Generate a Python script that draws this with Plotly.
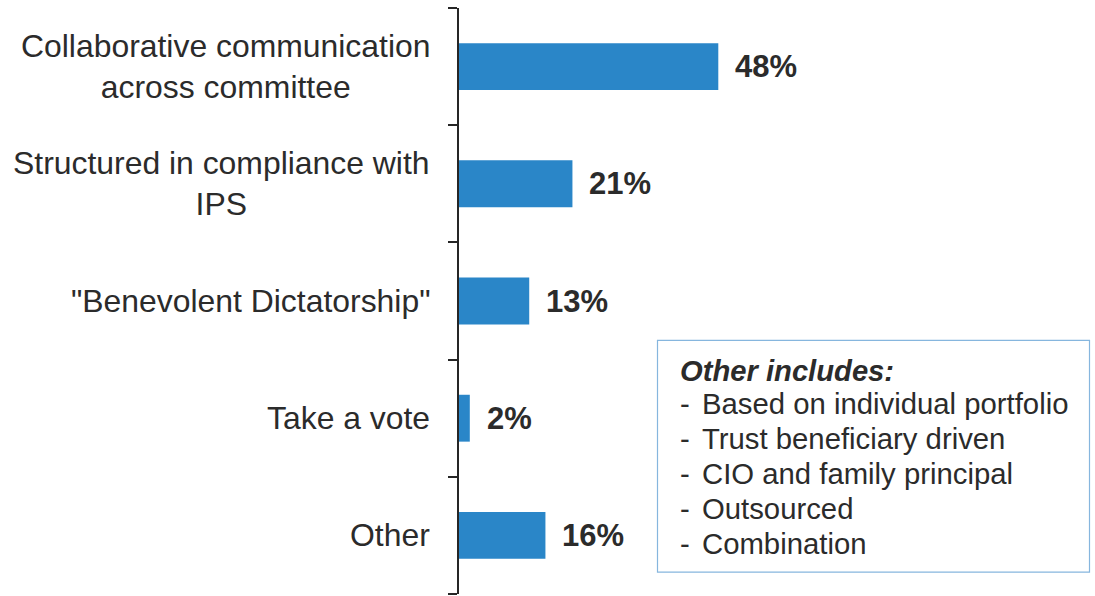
import plotly.graph_objects as go

# Survey responses: how investment decisions are made
categories = [
    "Collaborative communication<br>across committee",
    "Structured in compliance with<br>IPS",
    "\"Benevolent Dictatorship\"",
    "Take a vote",
    "Other",
]
values = [48, 21, 13, 2, 16]

note_title = "Other includes:"
note_items = [
    "Based on individual portfolio",
    "Trust beneficiary driven",
    "CIO and family principal",
    "Outsourced",
    "Combination",
]

BAR_COLOR = "#2A86C8"
TEXT_COLOR = "#2B2B2B"
FONT = "Liberation Sans, Arial, sans-serif"

W, H = 1095, 596
M_L, M_R, M_T, M_B = 459, 0, 7.5, 1.5
PLOT_W = W - M_L - M_R
PLOT_H = H - M_T - M_B
PX_PER_UNIT = 5.402  # horizontal scale, pixels per percentage point


def px_x(x):
    return (x - M_L) / PLOT_W


def px_y(y):
    return (H - M_B - y) / PLOT_H


# category slots on the y axis, top to bottom
positions = list(range(len(categories)))
boundaries = [p - 0.5 for p in positions] + [positions[-1] + 0.5]

fig = go.Figure(
    go.Bar(
        x=values,
        y=positions,
        orientation="h",
        marker=dict(color=BAR_COLOR, line=dict(width=0)),
        hoverinfo="skip",
    )
)

annotations = []
# Category labels, right-aligned against the axis, lines centred
for pos, cat in zip(positions, categories):
    annotations.append(dict(
        xref="paper", yref="y", x=0, y=pos, xanchor="right", yanchor="middle",
        xshift=-27, text=cat, align="center", showarrow=False,
        font=dict(family=FONT, size=31.9, color=TEXT_COLOR),
    ))

# Value labels at the end of each bar
for pos, v in zip(positions, values):
    annotations.append(dict(
        xref="x", yref="y", x=v, y=pos, xanchor="left", yanchor="middle",
        xshift=15, text=f"<b>{v}%</b>", showarrow=False,
        font=dict(family=FONT, size=31, color=TEXT_COLOR),
    ))

# Note box listing what "Other" covers
annotations.append(dict(
    xref="paper", yref="paper", x=px_x(678), y=px_y(371), xanchor="left",
    yanchor="middle", text=f"<b><i>{note_title}</i></b>", showarrow=False,
    font=dict(family=FONT, size=29.2, color=TEXT_COLOR),
))
item_y = [404, 439, 474, 509, 544]
for yy, item in zip(item_y, note_items):
    annotations.append(dict(
        xref="paper", yref="paper", x=px_x(678), y=px_y(yy), xanchor="left",
        yanchor="middle", text="-", showarrow=False,
        font=dict(family=FONT, size=29.3, color=TEXT_COLOR),
    ))
    annotations.append(dict(
        xref="paper", yref="paper", x=px_x(700), y=px_y(yy), xanchor="left",
        yanchor="middle", text=item, showarrow=False,
        font=dict(family=FONT, size=29.3, color=TEXT_COLOR),
    ))

shapes = [dict(
    type="rect", xref="paper", yref="paper",
    x0=px_x(657.5), x1=px_x(1089.5), y0=px_y(572.5), y1=px_y(340.5),
    line=dict(color="#86B6DE", width=1.2), fillcolor="white", layer="below",
)]

fig.update_layout(
    width=W, height=H,
    margin=dict(l=M_L, r=M_R, t=M_T, b=M_B, pad=0),
    paper_bgcolor="white", plot_bgcolor="white",
    bargap=0.6,
    showlegend=False,
    annotations=annotations,
    shapes=shapes,
    xaxis=dict(
        range=[0, PLOT_W / PX_PER_UNIT], visible=False, fixedrange=True,
    ),
    yaxis=dict(
        range=[positions[-1] + 0.5, positions[0] - 0.5],
        showline=True, linecolor="#262626", linewidth=2,
        tickmode="array", tickvals=boundaries,
        ticks="outside", ticklen=9, tickwidth=1.5, tickcolor="#262626",
        showticklabels=False, showgrid=False, zeroline=False, fixedrange=True,
    ),
)

fig.write_html("out.html")
